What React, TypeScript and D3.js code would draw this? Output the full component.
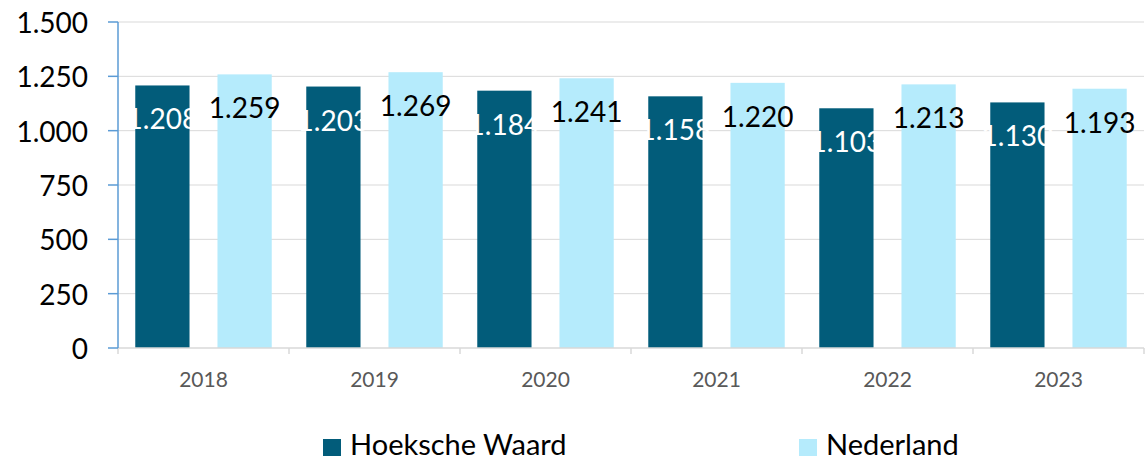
import React from 'react';
import * as d3 from 'd3';

const years = ['2018', '2019', '2020', '2021', '2022', '2023'];
const seriesNames = ['Hoeksche Waard', 'Nederland'];
const hoekscheWaard = [1208, 1203, 1184, 1158, 1103, 1130];
const nederland = [1259, 1269, 1241, 1220, 1213, 1193];
const yTicks = [0, 250, 500, 750, 1000, 1250, 1500];

const colors = ['#025C7A', '#B5EBFC'];
const labelColors = ['#ffffff', '#000000'];
const font = 'Lato, "Open Sans", sans-serif';

const fmt = (v: number) => d3.format(',')(v).replace(/,/g, '.');

export default function App() {
  const width = 1148;
  const height = 460;
  const margin = { top: 22, right: 4, bottom: 112, left: 118 };

  const x = d3.scaleBand<string>()
    .domain(years)
    .range([margin.left, width - margin.right])
    .padding(0);

  const xs = d3.scaleBand<string>()
    .domain(seriesNames)
    .range([0, x.bandwidth()])
    .paddingInner(0.34)
    .paddingOuter(0.21);

  const y = d3.scaleLinear()
    .domain([0, 1500])
    .range([height - margin.bottom, margin.top]);

  const data = [hoekscheWaard, nederland];
  const y0 = y(0);

  return (
    <svg width={width} height={height} style={{ position: 'absolute', left: 0, top: 0, fontFamily: font }}>
      <rect width={width} height={height} fill="#fff" />

      {/* gridlines */}
      {yTicks.filter(t => t > 0).map(t => (
        <line key={t} x1={margin.left} x2={width - margin.right} y1={y(t)} y2={y(t)} stroke="#d9d9d9" strokeWidth={1} />
      ))}

      {/* bars */}
      {data.map((vals, si) => vals.map((v, i) => (
        <rect
          key={`${si}-${i}`}
          x={x(years[i])! + xs(seriesNames[si])!}
          y={y(v)}
          width={xs.bandwidth()}
          height={y0 - y(v)}
          fill={colors[si]}
        />
      )))}

      {/* data labels */}
      {data.map((vals, si) => vals.map((v, i) => (
        <text
          key={`l${si}-${i}`}
          x={x(years[i])! + xs(seriesNames[si])! + xs.bandwidth() / 2}
          y={y(v) + 33}
          textAnchor="middle"
          dominantBaseline="central"
          fontSize={28}
          fill={labelColors[si]}
        >
          {fmt(v)}
        </text>
      )))}

      {/* x axis */}
      <line x1={margin.left} x2={width - margin.right} y1={y0} y2={y0} stroke="#d9d9d9" strokeWidth={1.5} />
      {[...years.map(yr => x(yr)!), width - margin.right].map((px, i) => (
        <line key={`xt${i}`} x1={px} x2={px} y1={y0} y2={y0 + 6} stroke="#d9d9d9" strokeWidth={1.5} />
      ))}
      {years.map(yr => (
        <text key={yr} x={x(yr)! + x.bandwidth() / 2} y={387} textAnchor="middle" fontSize={21} fill="#595959">
          {yr}
        </text>
      ))}

      {/* y axis */}
      <line x1={margin.left} x2={margin.left} y1={margin.top} y2={y0} stroke="#5B9BD5" strokeWidth={1.5} />
      {yTicks.map(t => (
        <g key={`yt${t}`}>
          <line x1={margin.left - 10} x2={margin.left} y1={y(t)} y2={y(t)} stroke="#5B9BD5" strokeWidth={1.5} />
          <text x={88} y={y(t)} textAnchor="end" dominantBaseline="central" fontSize={28} fill="#000">
            {fmt(t)}
          </text>
        </g>
      ))}

      {/* legend */}
      {seriesNames.map((name, si) => {
        const lx = [323, 799][si];
        return (
          <g key={name}>
            <rect x={lx} y={439} width={18} height={17} fill={colors[si]} />
            <text x={lx + 27} y={455} fontSize={29} fill="#000">{name}</text>
          </g>
        );
      })}
    </svg>
  );
}
